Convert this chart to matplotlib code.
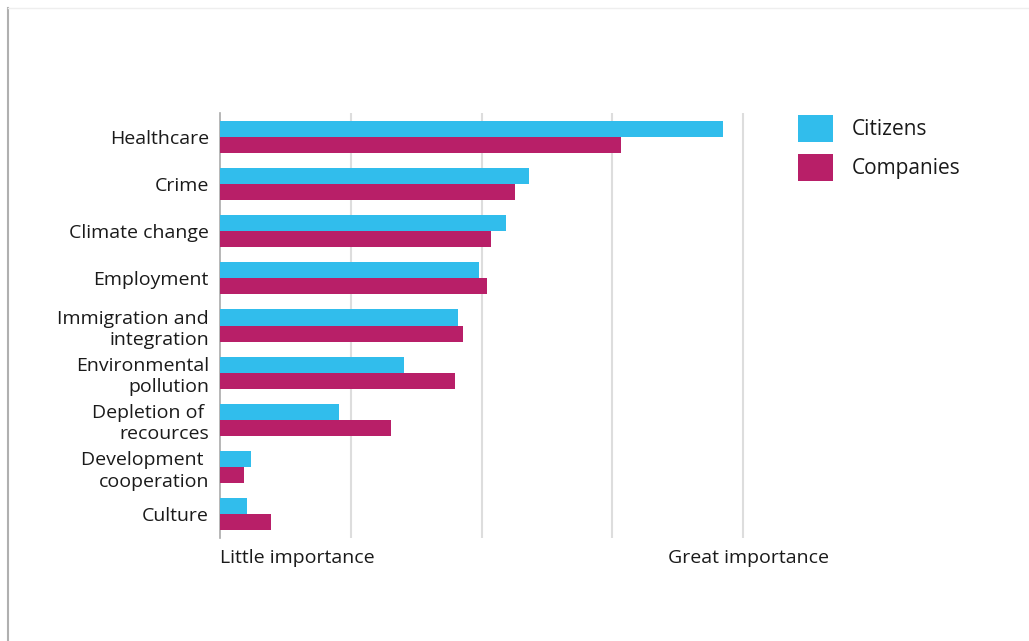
import numpy as np
import matplotlib.pyplot as plt
from matplotlib.lines import Line2D

plt.rcParams['font.family'] = ['Open Sans', 'DejaVu Sans']

categories = ['Healthcare', 'Crime', 'Climate change', 'Employment',
              'Immigration and\nintegration', 'Environmental\npollution',
              'Depletion of \nrecources', 'Development \ncooperation', 'Culture']
citizens = [3.85, 2.36, 2.19, 1.98, 1.82, 1.41, 0.91, 0.24, 0.21]
companies = [3.07, 2.26, 2.07, 2.04, 1.86, 1.80, 1.31, 0.18, 0.39]
tick_labels = ['Little importance', 'Great importance']

c_cit = '#31bdec'
c_com = '#b81f68'
txt = '#1a1a1a'

# x range a bit past 4 so the right label can sit slightly right of the last gridline
xmax = 4.05
fig = plt.figure(figsize=(10.29, 6.41), dpi=100)
ax = fig.add_axes([220 / 1029, 1 - 538 / 641, 523 * xmax / 4 / 1029, 425 / 641])

y = np.arange(len(categories))
h = 0.34
ax.barh(y - h / 2, citizens, height=h, color=c_cit, label='Citizens', zorder=3)
ax.barh(y + h / 2, companies, height=h, color=c_com, label='Companies', zorder=3)

ax.set_yticks(y)
ax.set_yticklabels(categories, fontsize=14, color=txt, linespacing=1.25)
ax.set_xticks([0, 4.04])
ax.set_xticklabels(tick_labels, fontsize=14, color=txt)
ax.get_xticklabels()[0].set_ha('left')
ax.set_ylim(len(categories) - 0.5, -0.5)
ax.set_xlim(0, xmax)
ax.tick_params(length=0)
ax.tick_params(axis='y', pad=8)
ax.tick_params(axis='x', pad=8)

for gx in [1, 2, 3, 4]:
    ax.axvline(gx, color='#dddddd', lw=1.5, zorder=1)
for s in ['top', 'right', 'bottom']:
    ax.spines[s].set_visible(False)
ax.spines['left'].set_color('#aaaaaa')
ax.spines['left'].set_linewidth(1.2)

fig.legend(loc='upper left', bbox_to_anchor=(779 / 1029, 1 - 96 / 641),
           frameon=False, fontsize=15, handlelength=1.7, handleheight=1.6,
           handletextpad=0.9, labelspacing=0.6, labelcolor=txt)

fig.add_artist(Line2D([7.5 / 1029, 7.5 / 1029], [0, 1 - 8 / 641],
                      color='#b0b0b0', lw=1.5, transform=fig.transFigure))
fig.add_artist(Line2D([7.5 / 1029, 1], [1 - 8 / 641, 1 - 8 / 641],
                      color='#eeeeee', lw=1, transform=fig.transFigure))

fig.savefig('out.png', dpi=100)
